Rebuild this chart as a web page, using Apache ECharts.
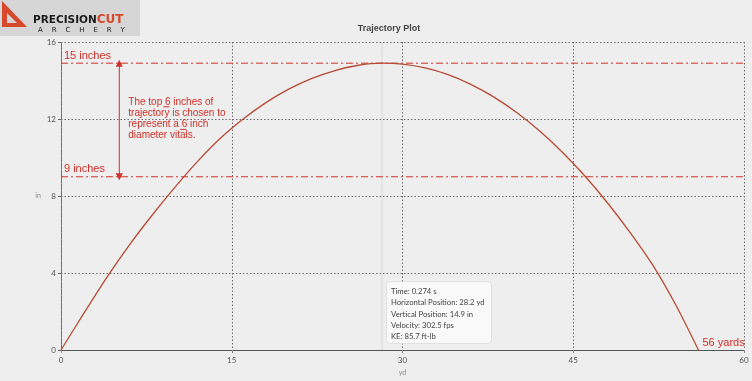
<!DOCTYPE html>
<html><head><meta charset="utf-8">
<script src="https://cdn.jsdelivr.net/npm/echarts@6/dist/echarts.min.js"></script>
<style>html,body{margin:0;padding:0;background:#eeeeee;}#c{width:752px;height:381px;}</style>
</head><body><div id="c"></div>
<script>
const rangeYd = [0, 2, 4, 6, 8, 10, 12, 14, 16, 18, 20, 22, 24, 26, 28.2, 30, 32, 34, 36, 38, 40, 42, 44, 46, 48, 50, 52, 54, 56];
const heightIn = [0, 1.9, 3.75, 5.45, 7.0, 8.45, 9.8, 11.0, 12.0, 12.85, 13.55, 14.1, 14.5, 14.78, 14.9, 14.85, 14.65, 14.3, 13.8, 13.15, 12.35, 11.4, 10.3, 9.05, 7.65, 6.1, 4.4, 2.35, 0];
const xTicks = [0, 15, 30, 45, 60];
const yTicks = [0, 4, 8, 12, 16];
const vitalsTopLine = 14.9, vitalsBottomLine = 9, arrowX = 5.12, crossX = 28.2, maxRange = 56;
const topLabel = '15 inches', bottomLabel = '9 inches', rangeLabel = '56 yards';
const tooltipLines = ['Time: 0.274 s', 'Horizontal Position: 28.2 yd', 'Vertical Position: 14.9 in', 'Velocity: 302.5 fps', 'KE: 85.7 ft-lb'];
const noteLines = ['The top 6 inches of', 'trajectory is chosen to', 'represent a 6 inch', 'diameter vitals.'];

const RED = '#cf3029', CURVE = '#b84a34', GRID = '#6b6b6b';
const chart = echarts.init(document.getElementById('c'), null, {renderer: 'canvas'});
const pts = rangeYd.map((x, i) => [x, heightIn[i]]);
const xMin = xTicks[0], xMax = xTicks[xTicks.length - 1];
const hLine = (y) => ({type: 'line', silent: true, showSymbol: false, symbol: 'none', z: 3,
  data: [[xMin, y], [xMax, y]], lineStyle: {color: RED, type: [7, 3, 2, 3], width: 1}, itemStyle: {color: RED}});
chart.setOption({
  backgroundColor: '#eeeeee',
  animation: false,
  title: {text: 'Trajectory Plot', left: 384, top: 19, textAlign: 'center',
    textStyle: {fontSize: 9, fontWeight: 'bold', color: '#444', fontFamily: 'Liberation Sans'}},
  grid: {left: 61, right: 8, top: 42, bottom: 27},
  xAxis: {type: 'value', min: xMin, max: xMax, interval: 15,
    name: 'yd', nameLocation: 'middle', nameGap: 19,
    nameTextStyle: {fontSize: 7, color: '#888', fontFamily: 'Lato'},
    axisLine: {lineStyle: {color: '#555', width: 1.2}},
    axisTick: {show: true, length: 3, lineStyle: {color: '#888'}},
    axisLabel: {fontSize: 8, color: '#555', margin: 6, fontFamily: 'Lato'},
    splitLine: {show: true, lineStyle: {color: GRID, type: [1.5, 2], width: 1}}},
  yAxis: {type: 'value', min: yTicks[0], max: yTicks[yTicks.length - 1], interval: 4,
    name: 'in', nameLocation: 'middle', nameGap: 20, nameRotate: 0,
    nameTextStyle: {fontSize: 7, color: '#888', fontFamily: 'Lato'},
    axisLine: {show: true, lineStyle: {color: GRID, type: [1.5, 2], width: 1}},
    axisTick: {show: true, length: 3, lineStyle: {color: '#666'}},
    axisLabel: {fontSize: 8, color: '#555', margin: 5, fontFamily: 'Lato'},
    splitLine: {show: true, lineStyle: {color: GRID, type: [1.5, 2], width: 1}}},
  series: [
    {type: 'line', silent: true, showSymbol: false, symbol: 'none', z: 1,
      data: [[crossX, yTicks[0]], [crossX, yTicks[yTicks.length - 1]]],
      lineStyle: {color: '#d2d2d2', width: 0.8}},
    hLine(vitalsTopLine),
    hLine(vitalsBottomLine),
    {type: 'line', silent: true, showSymbol: true, symbol: 'triangle', symbolSize: 7, z: 4,
      data: [{value: [arrowX, vitalsTopLine], symbolRotate: 0}, {value: [arrowX, vitalsBottomLine], symbolRotate: 180}],
      lineStyle: {color: RED, width: 1}, itemStyle: {color: RED, opacity: 1}},
    {type: 'line', data: pts, smooth: 0.25, showSymbol: false, z: 5,
      lineStyle: {color: CURVE, width: 1.3}, itemStyle: {color: CURVE}}
  ]
});

const p0 = chart.convertToPixel({gridIndex: 0}, [arrowX, vitalsTopLine]);
const pTop = chart.convertToPixel({gridIndex: 0}, [xMin, vitalsTopLine]);
const pBot = chart.convertToPixel({gridIndex: 0}, [xMin, vitalsBottomLine]);
const tipAnchor = chart.convertToPixel({gridIndex: 0}, [crossX, 0]);
const endPt = chart.convertToPixel({gridIndex: 0}, [maxRange, 0]);
const noteLeft = p0[0] + 9, noteTop = p0[1] + 33, lh = 11.3;
chart.setOption({graphic: [
  {type: 'rect', left: 0, top: 0, shape: {width: 140, height: 36}, style: {fill: '#d6d6d6'}, z: 100},
  {type: 'polygon', shape: {points: [[2, 1], [2, 27], [27, 27]]}, style: {fill: '#d8482b'}, z: 101},
  {type: 'polygon', shape: {points: [[7, 13], [7, 23], [17, 23]]}, style: {fill: '#d6d6d6'}, z: 102},
  {type: 'text', left: 33, top: 14, style: {text: '{a|PRECISION}{b|CUT}', rich: {
      a: {fontSize: 10.5, fontWeight: 'bold', fill: '#1a1a1a', fontFamily: 'DejaVu Sans'},
      b: {fontSize: 12, fontWeight: 'bold', fill: '#d8482b', fontFamily: 'DejaVu Sans'}}}, z: 103},
  {type: 'text', left: 38, top: 27, style: {text: 'A    R    C    H    E    R    Y', fontSize: 7, fill: '#222', fontFamily: 'DejaVu Sans'}, z: 103},
  {type: 'text', left: pTop[0] + 3, top: pTop[1] - 13, style: {text: topLabel, fontSize: 11, fill: RED, fontFamily: 'Liberation Sans'}, z: 50},
  {type: 'text', left: pBot[0] + 3, top: pBot[1] - 13, style: {text: bottomLabel, fontSize: 11, fill: RED, fontFamily: 'Liberation Sans'}, z: 50},
  {type: 'text', left: noteLeft, top: noteTop, style: {text: noteLines.join('\n'), fontSize: 10, lineHeight: lh, fill: RED, fontFamily: 'Liberation Sans'}, z: 50},
  {type: 'line', shape: {x1: noteLeft + 35, y1: noteTop + 10.6, x2: noteLeft + 41, y2: noteTop + 10.6}, style: {stroke: RED, lineWidth: 1}, z: 50},
  {type: 'line', shape: {x1: noteLeft + 52, y1: noteTop + 10.6 + 2 * lh, x2: noteLeft + 58, y2: noteTop + 10.6 + 2 * lh}, style: {stroke: RED, lineWidth: 1}, z: 50},
  {type: 'text', left: endPt[0] + 4, top: endPt[1] - 13, style: {text: rangeLabel, fontSize: 11, fill: RED, fontFamily: 'Liberation Sans'}, z: 50},
  {type: 'rect', left: tipAnchor[0] + 4, top: tipAnchor[1] - 69, shape: {width: 105, height: 62, r: 4},
    style: {fill: 'rgba(250,250,250,0.85)', stroke: 'rgba(220,220,220,0.8)', lineWidth: 1}, z: 60},
  {type: 'text', left: tipAnchor[0] + 9, top: tipAnchor[1] - 64, style: {text: tooltipLines.join('\n'), fontSize: 7.7, lineHeight: 11.3, fill: '#444', fontFamily: 'Lato'}, z: 61}
]});
</script></body></html>
